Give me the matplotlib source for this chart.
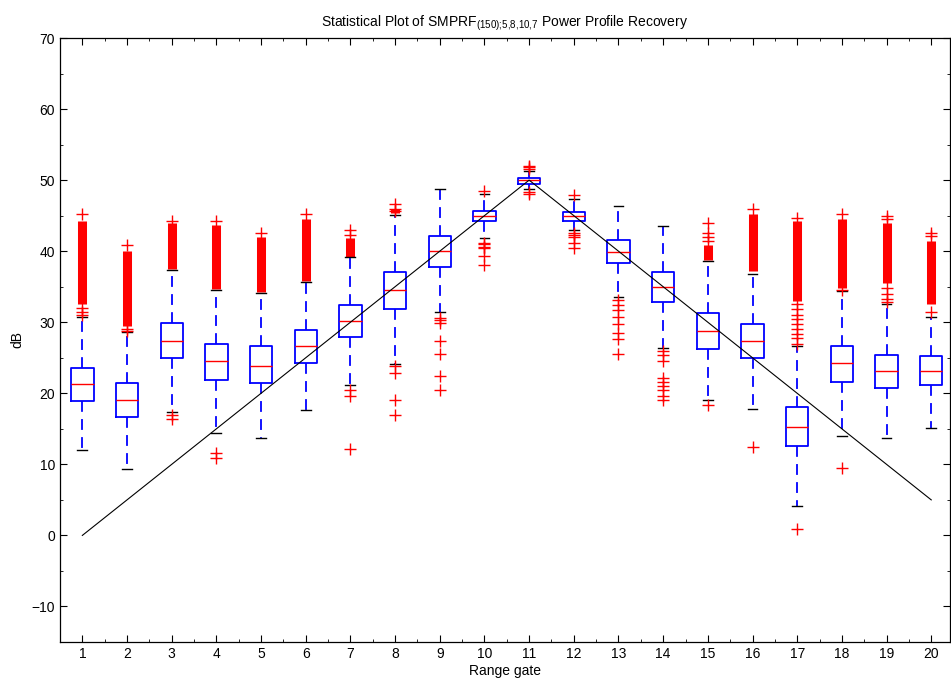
import numpy as np
import matplotlib
matplotlib.use("Agg")
import matplotlib.pyplot as plt

plt.rcParams['font.family'] = ['Liberation Sans Narrow', 'Liberation Sans', 'DejaVu Sans']
plt.rcParams['font.size'] = 10

# range gates
gates = np.arange(1, 21)

# box statistics (dB)
q1 = [18.9, 16.6, 24.9, 21.9, 21.4, 24.3, 27.9, 31.9, 37.8, 44.3,
      49.5, 44.2, 38.3, 32.9, 26.3, 25.0, 12.6, 21.6, 20.7, 21.1]
med = [21.3, 19.0, 27.3, 24.5, 23.9, 26.7, 30.2, 34.6, 40.0, 45.0,
       49.95, 44.9, 39.9, 35.0, 28.8, 27.4, 15.3, 24.2, 23.1, 23.2]
q3 = [23.5, 21.4, 29.9, 27.0, 26.6, 28.9, 32.4, 37.1, 42.2, 45.7,
      50.3, 45.5, 41.55, 37.1, 31.3, 29.7, 18.1, 26.7, 25.4, 25.25]
whislo = [12.0, 9.3, 17.4, 14.4, 13.7, 17.7, 21.1, 24.1, 31.4, 41.9,
          48.8, 43.0, 33.6, 26.4, 19.1, 17.8, 4.2, 14.0, 13.7, 15.1]
whishi = [30.7, 28.6, 37.3, 34.6, 34.1, 35.7, 39.2, 45.1, 48.7, 48.1,
          51.3, 47.4, 46.3, 43.6, 38.6, 36.85, 26.6, 34.4, 32.5, 30.75]

# single outliers
fliers = [
    [45.2, 31.0, 31.5, 32.0],
    [40.8, 29.0, 28.8],
    [44.3, 16.9, 16.4],
    [44.3, 11.6, 10.9],
    [42.6],
    [45.3],
    [42.3, 43.0, 20.4, 19.6, 12.1],
    [45.6, 46.0, 46.6, 23.9, 22.9, 19.1, 17.0],
    [30.6, 30.3, 29.9, 27.3, 25.6, 22.5, 20.4],
    [48.5, 41.2, 41.0, 40.6, 40.4, 39.3, 38.1],
    [51.6, 51.9, 52.0, 48.3, 48.0],
    [47.9, 42.6, 42.3, 42.0, 41.2, 40.4],
    [33.1, 32.4, 31.7, 30.75, 29.8, 28.5, 27.6, 25.6],
    [26.0, 25.4, 24.6, 22.2, 21.6, 21.0, 20.4, 19.6, 19.0],
    [41.5, 42.0, 42.5, 44.0, 18.3],
    [45.9, 12.4],
    [44.6, 32.5, 31.8, 31.0, 30.5, 29.8, 29.0, 28.3, 27.8, 27.0, 0.9],
    [45.3, 34.6, 9.5],
    [45.0, 44.5, 34.8, 34.0, 33.3, 32.8],
    [42.2, 42.5, 31.4],
]

# dense runs of outliers (drawn as solid red strips)
band_lo = [32.5, 29.5, 37.5, 34.7, 34.3, 35.8, 39.2, 45.4, np.nan, np.nan,
           np.nan, np.nan, np.nan, np.nan, 38.7, 37.2, 33.0, 34.8, 35.5, 32.5]
band_hi = [44.3, 40.0, 43.9, 43.7, 42.0, 44.5, 41.8, 45.9, np.nan, np.nan,
           np.nan, np.nan, np.nan, np.nan, 40.85, 45.2, 44.2, 44.5, 44.0, 41.5]

# ideal power profile
profile = [0, 5, 10, 15, 20, 25, 30, 35, 40, 45, 50,
           45, 40, 35, 30, 25, 20, 15, 10, 5]

fig = plt.figure(figsize=(9.51, 6.86), dpi=100)
ax = fig.add_axes([60 / 951, 1 - 642 / 686, 890 / 951, 604 / 686])

stats = []
for i in range(len(gates)):
    stats.append(dict(med=med[i], q1=q1[i], q3=q3[i], whislo=whislo[i],
                      whishi=whishi[i], fliers=fliers[i]))

ax.vlines(gates, band_lo, band_hi, color='red', linewidth=6.5, zorder=2)

ax.bxp(stats, positions=gates, widths=0.5, capwidths=0.22,
       boxprops=dict(color='blue', linewidth=1.3),
       whiskerprops=dict(color='blue', linewidth=1.3, linestyle=(0, (6, 4))),
       capprops=dict(color='black', linewidth=1.0),
       medianprops=dict(color='red', linewidth=1.0),
       flierprops=dict(marker='+', markeredgecolor='red', markersize=8,
                       markeredgewidth=1.0, linestyle='none'),
       manage_ticks=False)

ax.plot(gates, profile, color='black', linewidth=0.8, zorder=5)

ax.set_xlim(0.5, 20.42)
ax.set_ylim(-15, 70)
ax.set_xticks(gates)
ax.set_xticks(np.arange(1.5, 20.5, 1), minor=True)
ax.set_yticks(np.arange(-10, 71, 10))
ax.set_yticks(np.arange(-15, 71, 5), minor=True)
ax.tick_params(which='both', direction='in', top=True, right=True)
ax.tick_params(which='major', length=5, labelsize=10)
ax.tick_params(which='minor', length=2.5)
for s in ax.spines.values():
    s.set_linewidth(0.9)

ax.set_xlabel('Range gate', labelpad=2)
ax.set_ylabel('dB', labelpad=5)
ax.set_title(r'Statistical Plot of SMPRF$_{\mathregular{(150){;}\!5{,}8{,}10{,}7}}$ Power Profile Recovery',
             fontsize=10, pad=8)

fig.savefig('out.png', dpi=100)
